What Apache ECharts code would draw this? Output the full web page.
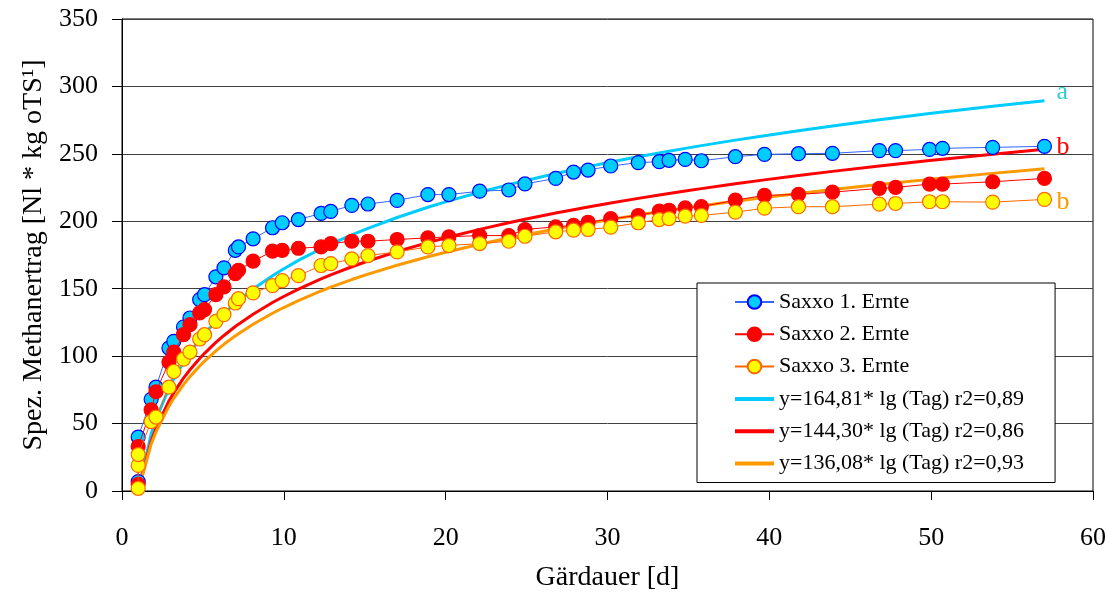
<!DOCTYPE html>
<html>
<head>
<meta charset="utf-8">
<script src="https://cdn.jsdelivr.net/npm/echarts@6/dist/echarts.min.js"></script>
<style>
  html, body { margin: 0; padding: 0; background: #fff; }
  #chart { width: 1110px; height: 608px; }
</style>
</head>
<body>
<div id="chart"></div>
<script>
// Gärdauer (days) of each measurement; day 1 holds three readings
const days = [1, 1, 1, 1.8, 2.1, 2.9, 3.2, 3.8, 4.2, 4.8, 5.1, 5.8, 6.3, 7.0, 7.2, 8.1, 9.3, 9.9, 10.9,
  12.3, 12.9, 14.2, 15.2, 17.0, 18.9, 20.2, 22.1, 23.9, 24.9, 26.8, 27.9, 28.8, 30.2, 31.9, 33.2,
  33.8, 34.8, 35.8, 37.9, 39.7, 41.8, 43.9, 46.8, 47.8, 49.9, 50.7, 53.8, 57.0];

// Spez. Methanertrag per harvest
const ernte1 = [7, null, 40, 68, 77, 106, 111, 121.6, 128.3, 141.9, 145.6, 158.8, 165.5, 178.5, 181, 187, 195.2, 198.9, 201.3,
  205.8, 207.3, 211.8, 212.8, 215.5, 219.8, 219.8, 222.3, 223.2, 227.7, 231.8, 236.5, 238, 241, 243.5, 244.2,
  245.2, 245.9, 244.9, 247.9, 249.6, 250.1, 250.4, 252.4, 252.4, 253.3, 254.1, 254.8, 255.6];
const ernte2 = [5, null, 33, 60.2, 73.6, 95.6, 103, 115.9, 123.3, 132, 134.5, 145.6, 151.3, 161.2, 163.7, 170.4, 177.8, 178.5, 180,
  181, 183.5, 185.2, 185.2, 186.5, 187.7, 188.5, 189.4, 189.4, 193.9, 195.9, 196.9, 199.3, 201.9, 204.3, 207.5,
  208.2, 210, 210.8, 215.7, 219.2, 219.9, 221.6, 224.4, 225.1, 227.6, 227.6, 229.3, 231.8];
const ernte3 = [2, 19, 27, 51.5, 54.8, 77, 88.6, 97.8, 103, 112.7, 115.9, 125.8, 130.8, 139.4, 142.6, 146.9, 152.3, 156, 159.7,
  167.2, 168.6, 172.1, 174.6, 177.3, 181, 182, 183.5, 185.2, 188.9, 192.2, 193.4, 193.9, 195.6, 198.9, 201.3,
  202, 203.8, 204.3, 206.8, 209.7, 210.8, 210.8, 212.7, 213.2, 214.5, 214.5, 214.2, 216.2];

// logarithmic fits y = k * lg(Tag) as stated in the legend
const fitCoef = [164.81, 144.30, 136.08];
const fitR2 = ['0,89', '0,86', '0,93'];
const letters = ['a', 'b', 'b'];

const seriesNames = ['Saxxo 1. Ernte', 'Saxxo 2. Ernte', 'Saxxo 3. Ernte'];
const yTicks = [0, 50, 100, 150, 200, 250, 300, 350];

const fitNames = fitCoef.map((k, i) =>
  'y=' + k.toFixed(2).replace('.', ',') + '* lg (Tag) r2=' + fitR2[i]);

const uniqueDays = days.filter((d, i) => days.indexOf(d) === i);
const fitData = k => uniqueDays.map(d => [d, k * Math.log10(d)]);
const pairs = vals => days.map((d, i) => [d, vals[i]]);

const serif = '"Liberation Serif", "Times New Roman", serif';

const fitColors = ['#00CCFF', '#FF0000', '#FF9900'];
const letterColors = ['#33CCCC', '#FF0000', '#FF9900'];

const chart = echarts.init(document.getElementById('chart'), null, { renderer: 'canvas' });

const fitSeries = fitCoef.map((k, i) => ({
  name: fitNames[i],
  type: 'line',
  data: fitData(k),
  showSymbol: false,
  symbol: 'none',
  silent: true,
  z: 1,
  lineStyle: { color: fitColors[i], width: 3 },
  itemStyle: { color: fitColors[i] },
  endLabel: i < 2 ? {
    show: true,
    formatter: letters[i],
    color: letterColors[i],
    fontFamily: serif,
    fontSize: 26,
    distance: 12,
    offset: i === 0 ? [0, -9] : [0, -2]
  } : { show: false }
}));

const markerStyles = [
  { line: '#3366FF', fill: '#00CCFF', border: '#0000FF' },
  { line: '#FF0000', fill: '#FF0000', border: '#FF0000' },
  { line: '#FF6600', fill: '#FFFF00', border: '#FF6600' }
];

const dataSeries = [ernte1, ernte2, ernte3].map((vals, i) => ({
  name: seriesNames[i],
  type: 'line',
  data: pairs(vals),
  connectNulls: true,
  symbol: 'circle',
  symbolSize: 14,
  showAllSymbol: true,
  z: 2 + i,
  lineStyle: { color: markerStyles[i].line, width: 1 },
  itemStyle: { color: markerStyles[i].fill, borderColor: markerStyles[i].border, borderWidth: 1.2 },
  endLabel: i === 2 ? {
    show: true,
    formatter: letters[2],
    color: letterColors[2],
    fontFamily: serif,
    fontSize: 26,
    distance: 12,
    offset: [0, 3]
  } : { show: false }
}));

// legend entries: markers for the measured series, plain thick lines for the fits
const legendData = seriesNames.map(n => ({ name: n })).concat(
  fitNames.map((n, i) => ({
    name: n,
    itemStyle: { color: 'rgba(0,0,0,0)', borderWidth: 0, opacity: 0 },
    lineStyle: { color: fitColors[i], width: 4 }
  }))
);

chart.setOption({
  animation: false,
  backgroundColor: '#fff',
  textStyle: { fontFamily: serif, color: '#000' },
  grid: {
    left: 122, right: 17, top: 19, bottom: 117,
    show: true, borderColor: '#000', borderWidth: 1, backgroundColor: '#fff'
  },
  legend: {
    orient: 'vertical',
    left: 697,
    top: 283,
    padding: [8, 31, 8, 36],
    itemGap: 10.3,
    itemWidth: 39,
    itemHeight: 17,
    backgroundColor: '#fff',
    borderColor: '#000',
    borderWidth: 1,
    borderRadius: 0,
    textStyle: { fontFamily: serif, fontSize: 22, color: '#000' },
    data: legendData
  },
  xAxis: {
    type: 'value',
    min: 0, max: 60, interval: 10,
    name: 'Gärdauer [d]',
    nameLocation: 'middle',
    nameGap: 73,
    nameTextStyle: { fontFamily: serif, fontSize: 28, color: '#000' },
    axisLine: { lineStyle: { color: '#000', width: 1 } },
    axisTick: { show: true, inside: false, length: 9, lineStyle: { color: '#000' } },
    axisLabel: { fontFamily: serif, fontSize: 26, color: '#000', margin: 34 },
    splitLine: { show: false }
  },
  yAxis: {
    type: 'value',
    min: 0, max: 350, interval: 50,
    name: 'Spez. Methanertrag [Nl * kg oTS¹]',
    nameLocation: 'middle',
    nameRotate: 90,
    nameGap: 66,
    nameTextStyle: { fontFamily: serif, fontSize: 28, color: '#000' },
    axisLine: { show: true, lineStyle: { color: '#000', width: 1 } },
    axisTick: { show: true, inside: false, length: 10, lineStyle: { color: '#000' } },
    axisLabel: {
      fontFamily: serif, fontSize: 26, color: '#000', margin: 24,
      formatter: v => (yTicks.indexOf(v) >= 0 ? String(v) : '')
    },
    splitLine: { show: true, lineStyle: { color: '#404040', width: 1 } }
  },
  series: fitSeries.concat(dataSeries)
});
</script>
</body>
</html>
